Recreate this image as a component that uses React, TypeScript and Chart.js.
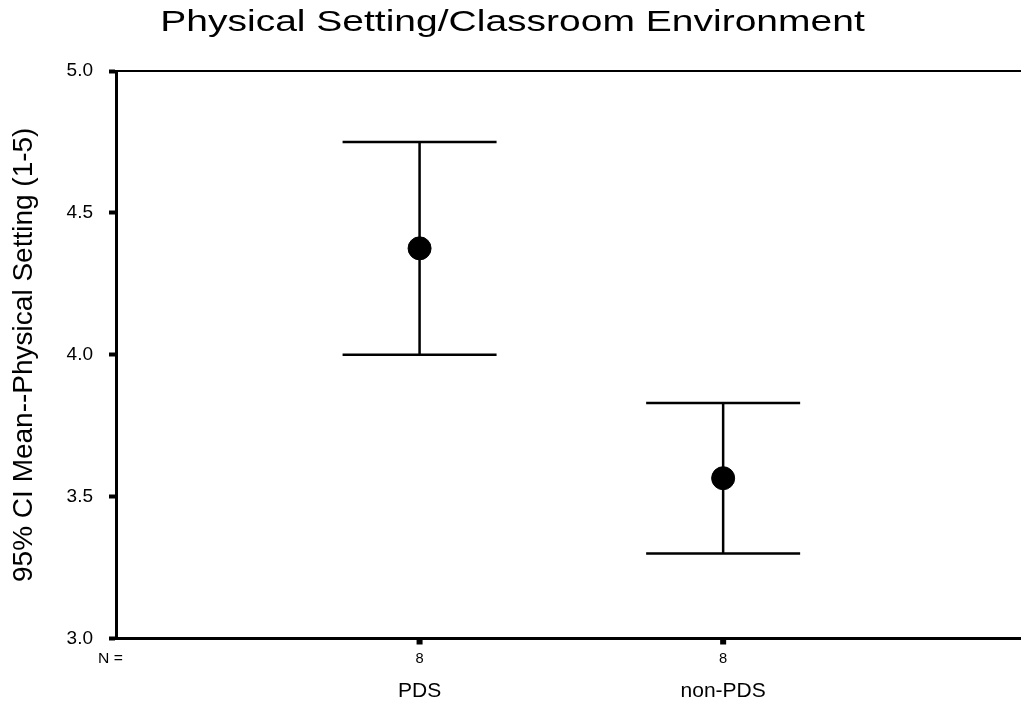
import React, { useEffect, useRef } from "react";
import { Chart, registerables } from "chart.js";

Chart.register(...registerables);

const TITLE = "Physical Setting/Classroom Environment";
const Y_LABEL = "95% CI Mean--Physical Setting (1-5)";
const CATEGORIES = ["PDS", "non-PDS"];
const N_VALUES = ["8", "8"];
const MEANS = [4.375, 3.565];
const LOWER = [4.0, 3.3];
const UPPER = [4.75, 3.83];
const Y_TICKS = [3.0, 3.5, 4.0, 4.5, 5.0];

const FONT = "'Liberation Sans', Arial, Helvetica, sans-serif";

function drawText(
  ctx: CanvasRenderingContext2D,
  text: string,
  x: number,
  y: number,
  size: number,
  align: CanvasTextAlign,
  sx: number
) {
  ctx.save();
  ctx.translate(x, y);
  ctx.scale(sx, 1);
  ctx.font = `${size}px ${FONT}`;
  ctx.fillStyle = "#000";
  ctx.textAlign = align;
  ctx.textBaseline = "alphabetic";
  ctx.fillText(text, 0, 0);
  ctx.restore();
}

const errorBarPlugin = {
  id: "errorBars",
  beforeDatasetsDraw(chart: any) {
    const { ctx, scales } = chart;
    const xs = scales.x;
    const ys = scales.y;
    ctx.save();
    ctx.strokeStyle = "#000";
    ctx.lineWidth = 2.5;
    CATEGORIES.forEach((_, i) => {
      const x = xs.getPixelForValue(i + 1);
      const yl = ys.getPixelForValue(LOWER[i]);
      const yu = ys.getPixelForValue(UPPER[i]);
      const half = 77;
      ctx.beginPath();
      ctx.moveTo(x, yl);
      ctx.lineTo(x, yu);
      ctx.moveTo(x - half, yl);
      ctx.lineTo(x + half, yl);
      ctx.moveTo(x - half, yu);
      ctx.lineTo(x + half, yu);
      ctx.stroke();
    });
    ctx.restore();
  },
};

const decorPlugin = {
  id: "decor",
  afterDraw(chart: any) {
    const { ctx, chartArea, scales } = chart;
    const xs = scales.x;
    ctx.save();
    ctx.strokeStyle = "#000";
    ctx.lineWidth = 2;
    ctx.beginPath();
    ctx.moveTo(chartArea.left, chartArea.top);
    ctx.lineTo(chart.width, chartArea.top);
    ctx.stroke();
    ctx.lineWidth = 3;
    ctx.beginPath();
    ctx.moveTo(chartArea.left - 1.5, chartArea.bottom);
    ctx.lineTo(chart.width, chartArea.bottom);
    ctx.stroke();
    ctx.fillStyle = "#000";
    CATEGORIES.forEach((_, i) => {
      const x = xs.getPixelForValue(i + 1);
      ctx.fillRect(x - 3, chartArea.bottom, 6, 6);
    });
    ctx.restore();

    drawText(ctx, TITLE, chart.width / 2 + 2, 31, 30, "center", 1.3);
    drawText(ctx, "N =", 98, 663, 14, "left", 1.12);
    CATEGORIES.forEach((c, i) => {
      const x = xs.getPixelForValue(i + 1);
      drawText(ctx, N_VALUES[i], x, 663, 14, "center", 1.05);
      drawText(ctx, c, x, 697, 21, "center", 1.0);
    });
  },
};

export default function App() {
  const ref = useRef<HTMLCanvasElement | null>(null);

  useEffect(() => {
    if (!ref.current) return;
    document.body.style.margin = "0";
    const chart = new Chart(ref.current, {
      type: "scatter",
      data: {
        datasets: [
          {
            data: MEANS.map((m, i) => ({ x: i + 1, y: m })),
            backgroundColor: "#000",
            borderColor: "#000",
            pointRadius: 11.5,
            pointHoverRadius: 11.5,
            pointStyle: "circle",
          },
        ],
      },
      options: {
        responsive: false,
        animation: false,
        devicePixelRatio: 1,
        layout: { padding: { left: 0, right: 0, top: 71, bottom: 65.5 } },
        plugins: {
          legend: { display: false },
          title: { display: false },
          tooltip: { enabled: false },
        },
        scales: {
          x: {
            type: "linear",
            display: false,
            min: 0,
            max: 2.94,
          },
          y: {
            type: "linear",
            min: 3,
            max: 5,
            afterFit: (scale: any) => {
              scale.width = 116;
            },
            afterBuildTicks: (scale: any) => {
              scale.ticks = Y_TICKS.map((v) => ({ value: v }));
            },
            ticks: {
              color: "#000",
              font: { family: FONT, size: 19 },
              padding: 16,
              callback: (v: any) => Number(v).toFixed(1),
            },
            grid: {
              drawOnChartArea: false,
              drawTicks: true,
              tickLength: 7,
              tickWidth: 4,
              tickColor: "#000",
            },
            border: { display: true, color: "#000", width: 3 },
            title: {
              display: true,
              text: Y_LABEL,
              color: "#000",
              font: { family: FONT, size: 28 },
              padding: { top: 7, bottom: 0 },
            },
          },
        },
      },
      plugins: [errorBarPlugin, decorPlugin],
    });
    return () => chart.destroy();
  }, []);

  return (
    <canvas
      ref={ref}
      width={1021}
      height={704}
      style={{ position: "absolute", left: 0, top: 0, width: 1021, height: 704 }}
    />
  );
}
